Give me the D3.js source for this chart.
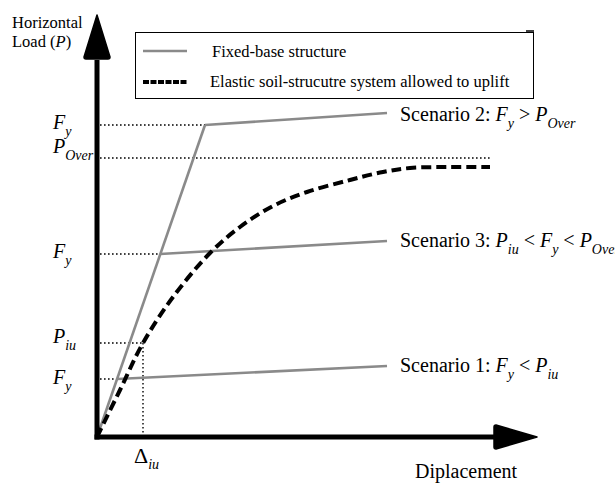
<!DOCTYPE html>
<html><head><meta charset="utf-8">
<script src="https://cdn.jsdelivr.net/npm/d3@7"></script>
</head><body style="margin:0;background:#fff"><svg id="c" width="615" height="484" style="display:block"></svg>
<script>
// ---- data (displacement / load in drawing units) ----
const levels = { Fy2: 312, POver: 279, Fy3: 183, Piu: 94, Fy1: 58 };
const deltaIu = 46;
const elasticBranch = [[0,0],[108,312]];
const scenarioLines = [
  {name:"Scenario 2", pts:[[108,312],[290,324]]},
  {name:"Scenario 3", pts:[[63,183],[290,196]]},
  {name:"Scenario 1", pts:[[20,58],[290,71]]}
];
const upliftCurve = [[0,0],[23,47],[46,94],[76,140],[113,184],[143,210],[176,231],[210,245],[253,257],[286,265],[313,269],[353,270],[393,270]];
const guideLines = [
  {y:levels.Fy2, x1:0, x2:108},
  {y:levels.POver, x1:0, x2:393},
  {y:levels.Fy3, x1:0, x2:63},
  {y:levels.Piu, x1:0, x2:46},
  {y:levels.Fy1, x1:0, x2:20}
];
const yLabels = [
  {main:"F", sub:"y", y:levels.Fy2, dy:4},
  {main:"P", sub:"Over", y:levels.POver, dy:-5},
  {main:"F", sub:"y", y:levels.Fy3, dy:4},
  {main:"P", sub:"iu", y:levels.Piu, dy:0},
  {main:"F", sub:"y", y:levels.Fy1, dy:5}
];
const legendItems = ["Fixed-base structure","Elastic soil-strucutre system allowed to uplift"];

const svg = d3.select("#c");
const x = d3.scaleLinear().domain([0,440]).range([97,537]);
const y = d3.scaleLinear().domain([0,422]).range([437,15]);
const line = d3.line().x(d=>x(d[0])).y(d=>y(d[1]));
const GRAY = "#8a8a8a";
function T(sel){ return sel.append("text").attr("fill","#000"); }

// guides (dotted)
svg.selectAll(".g").data(guideLines).join("line")
  .attr("x1",d=>x(d.x1)+3).attr("x2",d=>x(d.x2)).attr("y1",d=>y(d.y)).attr("y2",d=>y(d.y))
  .attr("stroke","#000").attr("stroke-width",1.4).attr("stroke-dasharray","1.6,2.4");
svg.append("line").attr("x1",x(deltaIu)).attr("x2",x(deltaIu)).attr("y1",y(levels.Piu)).attr("y2",y(0)-2)
  .attr("stroke","#000").attr("stroke-width",1.4).attr("stroke-dasharray","1.6,2.4");

// fixed-base lines
svg.append("path").attr("d",line(elasticBranch)).attr("fill","none").attr("stroke",GRAY).attr("stroke-width",2.6);
svg.selectAll(".s").data(scenarioLines).join("path").attr("d",d=>line(d.pts))
  .attr("fill","none").attr("stroke",GRAY).attr("stroke-width",2.6);

// uplift curve
svg.append("path").attr("d",d3.line().x(d=>x(d[0])).y(d=>y(d[1])).curve(d3.curveCatmullRom.alpha(0.5))(upliftCurve))
  .attr("fill","none").attr("stroke","#000").attr("stroke-width",4).attr("stroke-dasharray","10,5");

// axes
svg.append("line").attr("x1",x(0)).attr("x2",x(0)).attr("y1",y(0)+2.5).attr("y2",60).attr("stroke","#000").attr("stroke-width",5);
svg.append("line").attr("x1",x(0)-2.5).attr("x2",497).attr("y1",y(0)).attr("y2",y(0)).attr("stroke","#000").attr("stroke-width",5);
svg.append("path").attr("d",`M97,15 L110,57 Q110,59 108,59 L86,59 Q84,59 84,57 Z`).attr("fill","#000").attr("stroke","#000").attr("stroke-linejoin","round").attr("stroke-width",1.5);
svg.append("path").attr("d",`M537,437 L496,449 Q494,449 494,447 L494,427 Q494,425 496,425 Z`).attr("fill","#000").attr("stroke","#000").attr("stroke-linejoin","round").attr("stroke-width",1.5);

// axis titles
T(svg).attr("x",12).attr("y",28).attr("font-size",16.5).text("Horizontal");
const lt = T(svg).attr("x",12).attr("y",47).attr("font-size",16.5);
lt.append("tspan").text("Load (");
lt.append("tspan").attr("font-style","italic").text("P");
lt.append("tspan").text(")");
T(svg).attr("x",415).attr("y",478).attr("font-size",20).text("Diplacement");

// y labels
yLabels.forEach(l=>{
  const t = T(svg).attr("x",53).attr("y",y(l.y)+l.dy).attr("font-size",20).attr("font-style","italic");
  t.append("tspan").text(l.main);
  t.append("tspan").attr("font-size",14).attr("dy",7).text(l.sub);
});
// delta label
const dt = T(svg).attr("x",134).attr("y",463).attr("font-size",22);
dt.append("tspan").text("Δ");
dt.append("tspan").attr("font-size",14).attr("font-style","italic").attr("dy",6).text("iu");

// scenario labels
function sub(t, s){ t.append("tspan").attr("font-style","italic").text(s[0]); t.append("tspan").attr("font-style","italic").attr("font-size",14).attr("dy",7).text(s[1]); }
const endX = x(scenarioLines[0].pts[1][0]) + 13;
let t2 = T(svg).attr("x",endX).attr("y",121).attr("font-size",20);
t2.append("tspan").text(scenarioLines[0].name+": "); sub(t2,["F","y"]); t2.append("tspan").attr("dy",-7).text(" > "); sub(t2,["P","Over"]);
let t3 = T(svg).attr("x",endX).attr("y",247).attr("font-size",20);
t3.append("tspan").text(scenarioLines[1].name+": "); sub(t3,["P","iu"]); t3.append("tspan").attr("dy",-7).text(" < "); sub(t3,["F","y"]); t3.append("tspan").attr("dy",-7).text(" < "); sub(t3,["P","Over"]);
let t1 = T(svg).attr("x",endX).attr("y",372).attr("font-size",20);
t1.append("tspan").text(scenarioLines[2].name+": "); sub(t1,["F","y"]); t1.append("tspan").attr("dy",-7).text(" < "); sub(t1,["P","iu"]);

// legend
svg.append("rect").attr("x",135.5).attr("y",32.5).attr("width",398).attr("height",66).attr("fill","none").attr("stroke","#000").attr("stroke-width",1);
svg.append("line").attr("x1",526).attr("x2",534).attr("y1",31).attr("y2",31).attr("stroke","#000").attr("stroke-width",1.5);
svg.append("line").attr("x1",143).attr("x2",187).attr("y1",51).attr("y2",51).attr("stroke",GRAY).attr("stroke-width",2.6);
svg.append("line").attr("x1",143).attr("x2",187).attr("y1",82).attr("y2",82).attr("stroke","#000").attr("stroke-width",4).attr("stroke-dasharray","6,1.5");
T(svg).attr("x",212).attr("y",57).attr("font-size",16.5).text(legendItems[0]);
T(svg).attr("x",210).attr("y",87).attr("font-size",16.5).text(legendItems[1]);
</script></body></html>
